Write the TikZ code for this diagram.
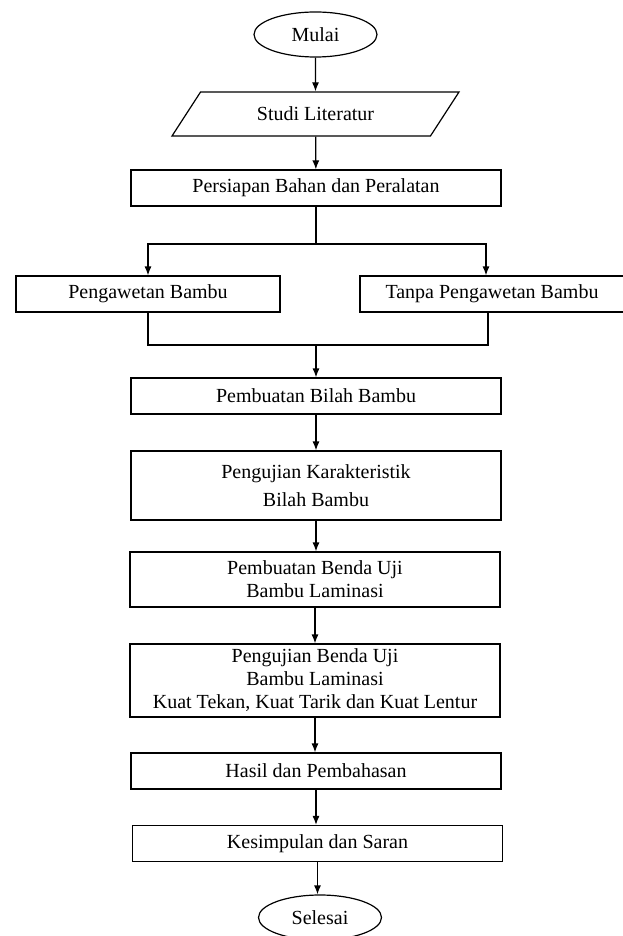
\documentclass[tikz,border=0pt]{standalone}
\usepackage{fontspec}
\setmainfont{Liberation Serif}
\usepackage{tikz}
\usetikzlibrary{shapes.geometric}
\usetikzlibrary{arrows.meta}

\begin{document}
\begin{tikzpicture}[x=1pt,y=-1pt]
% Flowchart style
\tikzset{
    every node/.style={font=\fontsize{20}{23}\selectfont, align=center},
    box/.style={draw, line width=1.2pt, rectangle, minimum width=370pt, minimum height=36pt, inner sep=2pt},
    terminal/.style={draw, line width=1.2pt, ellipse, minimum width=123pt, minimum height=45pt, inner sep=0pt},
    data/.style={draw, line width=1.2pt, trapezium, trapezium left angle=36, trapezium right angle=144,
        trapezium stretches body, minimum width=287pt, minimum height=44pt},
    arr/.style={-{Latex[length=9pt,width=7pt]}, line width=1.2pt},
    wire/.style={line width=1.2pt}
}
\useasboundingbox (0,0) rectangle (622,936);
% Terminals and boxes
\draw (315.5,34.5) node[terminal] (Mulai){Mulai};
\draw (315.5,114) node[data] (Studi){Studi Literatur};
\draw (316,188) node[box] (Persiapan){Persiapan Bahan dan Peralatan};
\draw (148,294) node[box, minimum width=264pt] (Awet){Pengawetan Bambu};
\draw (492,294) node[box, minimum width=264pt] (Tanpa){Tanpa Pengawetan Bambu};
\draw (316,396) node[box] (Bilah){Pembuatan Bilah Bambu};
\draw (316,485.5) node[box, minimum height=69pt] (Karak){Pengujian Karakteristik\\[5pt]Bilah Bambu};
\draw (315,579.5) node[box, minimum height=55pt] (Benda){Pembuatan Benda Uji\\Bambu Laminasi};
\draw (315,680.5) node[box, minimum height=73pt] (Uji){Pengujian Benda Uji\\Bambu Laminasi\\Kuat Tekan, Kuat Tarik dan Kuat Lentur};
\draw (316,771) node[box] (Hasil){Hasil dan Pembahasan};
\draw (317.5,843.5) node[box] (Simpul){Kesimpulan dan Saran};
\draw (320,917.5) node[terminal] (Selesai){Selesai};
% Branch points
\coordinate (Fork) at (316,244);
\coordinate (Join) at (316,345);
% Connection
\draw[arr] (Mulai) -- (Studi);
\draw[arr] (Studi) -- (Persiapan);
\draw[wire] (Persiapan) -- (Fork);
\draw[arr] (Fork) -| (Awet);
\draw[arr] (Fork) -| ([xshift=-6pt]Tanpa.north);
\draw[wire] (Awet) |- (Join);
\draw[wire] ([xshift=-4pt]Tanpa.south) |- (Join);
\draw[arr] (Join) -- (Bilah);
\draw[arr] (Bilah) -- (Karak);
\draw[arr] (Karak.south) -- (Karak.south |- Benda.north);
\draw[arr] (Benda.south) -- (Benda.south |- Uji.north);
\draw[arr] (Uji.south) -- (Uji.south |- Hasil.north);
\draw[arr] (Hasil.south) -- (Hasil.south |- Simpul.north);
\draw[arr] (Simpul.south) -- (Simpul.south |- Selesai.north);
\end{tikzpicture}
\end{document}
